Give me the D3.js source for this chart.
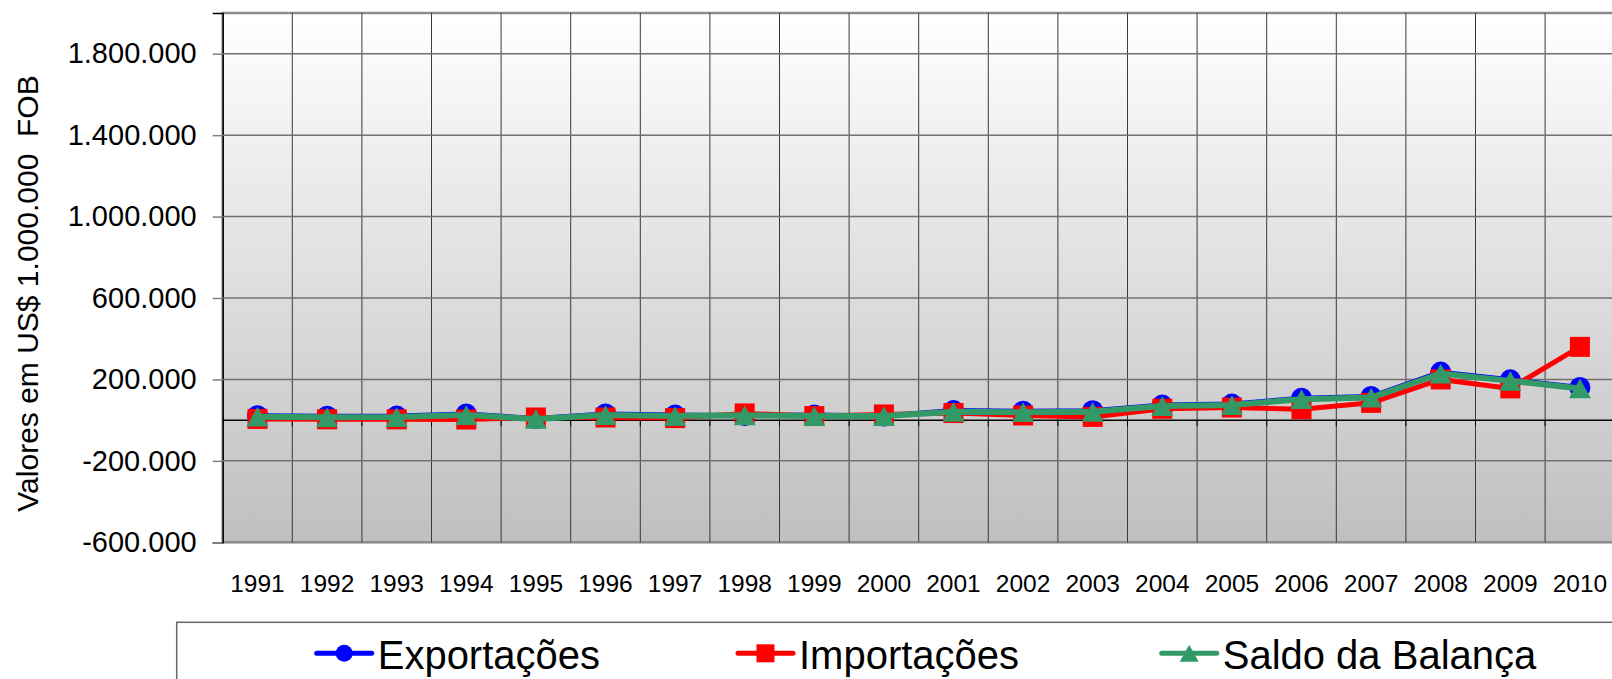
<!DOCTYPE html>
<html>
<head>
<meta charset="utf-8">
<script src="https://cdn.jsdelivr.net/npm/d3@7"></script>
<style>
  body { margin: 0; background: #fff; }
  svg { display: block; font-family: 'Liberation Sans', Arial, sans-serif; }
</style>
</head>
<body>
<div id="chart"></div>
<script>
// data (US$ 1.000.000 FOB)
let years = ['1991', '1992', '1993', '1994', '1995', '1996', '1997', '1998', '1999', '2000',
  '2001', '2002', '2003', '2004', '2005', '2006', '2007', '2008', '2009', '2010']
let exportacoes = [22000, 19000, 20000, 30000, 8000, 30000, 25000, 22000, 25000, 20000,
  47000, 44000, 46000, 74000, 79000, 108000, 116000, 236000, 198000, 161000]
let importacoes = [6000, 4000, 4000, 3000, 13000, 13000, 10000, 33000, 20000, 28000,
  35000, 23000, 16000, 56000, 62000, 54000, 85000, 200000, 156000, 360000]
let saldo = [17000, 14000, 15000, 25000, 6000, 25000, 20000, 24000, 20000, 20000,
  41000, 39000, 41000, 69000, 74000, 103000, 111000, 229000, 193000, 156000]
let yTicks = [-600000, -200000, 200000, 600000, 1000000, 1400000, 1800000]
let seriesNames = ['Exportações', 'Importações', 'Saldo da Balança']

let width = 1612,
  height = 679,
  plot = { left: 222.7, right: 1614.7, top: 13, bottom: 542.3 },
  colors = ['#0000ff', '#ff0000', '#339966'],
  shapes = ['circle', 'square', 'triangle'],
  markerSizes = [21, 20, 22], // plot markers
  legendMarkerSizes = [17, 18, 19]

let ptBR = d3.formatLocale({ decimal: ',', thousands: '.', grouping: [3], currency: ['R$', ''], minus: '-' })
let fmt = ptBR.format(',d')

let x = d3.scaleBand()
  .domain(years)
  .range([plot.left, plot.right])

let y = d3.scaleLinear()
  .domain([-600000, 2000000])
  .range([plot.bottom, plot.top])

let svg = d3.select('#chart').append('svg')
  .attr('width', width)
  .attr('height', height)

// background gradient of the plot area
let grad = svg.append('defs').append('linearGradient')
  .attr('id', 'bg')
  .attr('x1', 0).attr('y1', 0).attr('x2', 0).attr('y2', 1)
grad.append('stop').attr('offset', '0%').attr('stop-color', '#ffffff')
grad.append('stop').attr('offset', '100%').attr('stop-color', '#bfbfbf')

svg.append('rect')
  .attr('x', plot.left)
  .attr('y', plot.top)
  .attr('width', plot.right - plot.left)
  .attr('height', plot.bottom - plot.top)
  .attr('fill', 'url(#bg)')
  .attr('stroke', '#8c8c8c')
  .attr('stroke-width', 2.5)

// vertical gridlines at category boundaries
svg.append('g').selectAll('line')
  .data(years.slice(1))
  .enter().append('line')
  .attr('x1', d => x(d))
  .attr('x2', d => x(d))
  .attr('y1', plot.top)
  .attr('y2', plot.bottom)
  .attr('stroke', '#3a3a3a')
  .attr('stroke-width', 1)

// y axis with gray ticks
let yAxis = d3.axisLeft(y)
  .tickValues(yTicks)
  .tickFormat(fmt)
  .tickSize(10)
  .tickPadding(16)

let gy = svg.append('g')
  .attr('transform', 'translate(' + plot.left + ',0)')
  .call(yAxis)
gy.select('.domain').attr('stroke', '#000').attr('stroke-width', 1.5)
gy.selectAll('.tick line').attr('stroke', '#808080').attr('stroke-width', 1.5)
gy.selectAll('.tick text')
  .attr('font-size', '29px')
  .attr('font-family', "'Liberation Sans', Arial, sans-serif")
  .attr('fill', '#000')

// horizontal gridlines
svg.append('g').selectAll('line')
  .data(yTicks.slice(1))
  .enter().append('line')
  .attr('x1', plot.left)
  .attr('x2', plot.right)
  .attr('y1', d => y(d))
  .attr('y2', d => y(d))
  .attr('stroke', '#707070')
  .attr('stroke-width', 1.5)

// zero line with small ticks
let gx = svg.append('g')
  .attr('transform', 'translate(0,' + y(0) + ')')
gx.append('line')
  .attr('x1', plot.left)
  .attr('x2', plot.right)
  .attr('stroke', '#000')
  .attr('stroke-width', 1.5)
gx.selectAll('.zt')
  .data(years.slice(1))
  .enter().append('line')
  .attr('x1', d => x(d))
  .attr('x2', d => x(d))
  .attr('y1', 0)
  .attr('y2', 6)
  .attr('stroke', '#000')

// category labels (drawn low, under the plot)
svg.append('g').selectAll('text')
  .data(years)
  .enter().append('text')
  .attr('x', d => x(d) + x.bandwidth() / 2)
  .attr('y', 591.7)
  .attr('text-anchor', 'middle')
  .attr('font-size', '24.5px')
  .text(d => d)

// y axis title
svg.append('text')
  .attr('transform', 'translate(38,293.5) rotate(-90)')
  .attr('text-anchor', 'middle')
  .attr('font-size', '30px')
  .style('white-space', 'pre')
  .text('Valores em US$ 1.000.000  FOB')

function marker(sel, shape, color, size) {
  if (shape === 'circle') {
    sel.append('circle').attr('r', size / 2).attr('fill', color)
  } else if (shape === 'square') {
    sel.append('rect')
      .attr('x', -size / 2).attr('y', -size / 2)
      .attr('width', size).attr('height', size)
      .attr('fill', color)
  } else {
    let h = size * 0.9
    sel.append('path')
      .attr('d', 'M0,' + (-h / 2) + 'L' + (size / 2) + ',' + (h / 2) + 'L' + (-size / 2) + ',' + (h / 2) + 'Z')
      .attr('fill', color)
  }
}

let line = d3.line()
  .x((d, i) => x(years[i]) + x.bandwidth() / 2)
  .y(d => y(d))

let seriesData = [exportacoes, importacoes, saldo]

seriesData.forEach((values, s) => {
  let g = svg.append('g').attr('class', 'series')
  g.append('path')
    .datum(values)
    .attr('d', line)
    .attr('fill', 'none')
    .attr('stroke', colors[s])
    .attr('stroke-width', s === 2 ? 6 : 5)
    .attr('stroke-linejoin', 'round')

  g.selectAll('.pt')
    .data(values)
    .enter().append('g')
    .attr('transform', (d, i) => 'translate(' + (x(years[i]) + x.bandwidth() / 2) + ',' + y(d) + ')')
    .each(function () {
      marker(d3.select(this), shapes[s], colors[s], markerSizes[s])
    })
})

// legend
let legend = svg.append('g')
legend.append('rect')
  .attr('x', 176.7)
  .attr('y', 622.3)
  .attr('width', 1500)
  .attr('height', 120)
  .attr('fill', '#fff')
  .attr('stroke', '#666')
  .attr('stroke-width', 1.5)

let legendX = [316.7, 738, 1161.7]
seriesNames.forEach((name, s) => {
  let item = legend.append('g')
    .attr('transform', 'translate(' + legendX[s] + ',653.3)')
  item.append('line')
    .attr('x1', 0)
    .attr('x2', 55)
    .attr('stroke', colors[s])
    .attr('stroke-width', 5)
    .attr('stroke-linecap', 'round')
  let m = item.append('g').attr('transform', 'translate(27.5,0)')
  marker(m, shapes[s], colors[s], legendMarkerSizes[s])
  item.append('text')
    .attr('x', 61)
    .attr('y', 16)
    .attr('font-size', '40px')
    .text(name)
})
</script>
</body>
</html>
